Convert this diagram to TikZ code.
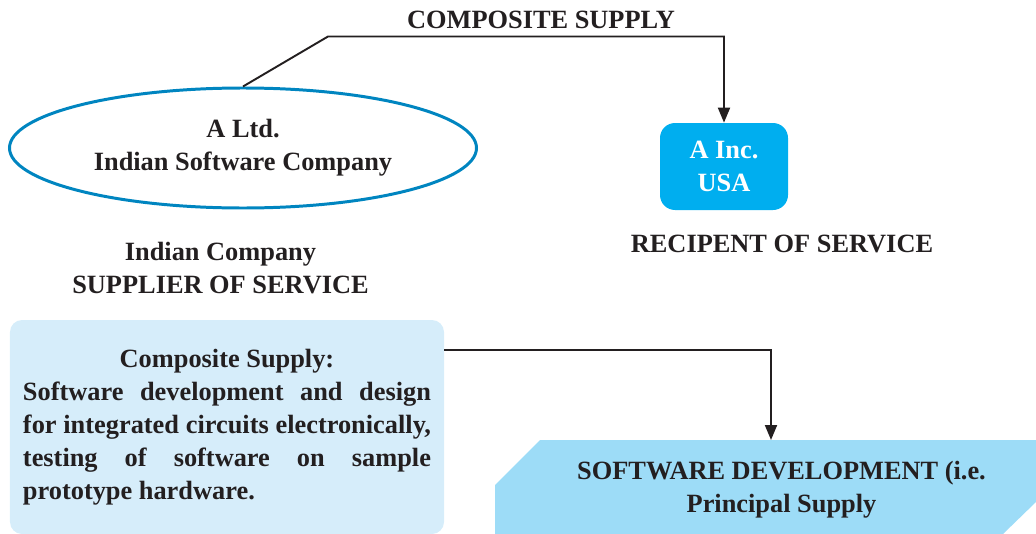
\documentclass[tikz,border=0pt]{standalone}
\usepackage{fontspec}
\setmainfont{Liberation Serif}
\usetikzlibrary{shapes.geometric,arrows.meta}
\definecolor{ellblue}{RGB}{0,133,192}
\definecolor{incblue}{RGB}{0,174,239}
\definecolor{paleblue}{RGB}{214,237,250}
\definecolor{devblue}{RGB}{157,220,247}
\definecolor{inkblack}{RGB}{35,31,32}
\begin{document}
\begin{tikzpicture}[font=\fontsize{15}{18.8}\selectfont\bfseries, text=inkblack,
  lbl/.style={align=center, inner sep=0pt},
  conn/.style={-{Triangle[length=0.3cm,width=0.24cm]}, draw=inkblack, line width=1.1pt}]
\useasboundingbox (0,0) rectangle (20.72,-10.68);
\node[lbl] (title) at (10.82,-0.40) {COMPOSITE SUPPLY};
\node[ellipse, draw=ellblue, line width=1.7pt, minimum width=9.34cm, minimum height=2.4cm, align=center, inner sep=0pt] (ltd) at (4.86,-2.96) {A Ltd.\\Indian Software Company};
\node[rectangle, fill=incblue, rounded corners=0.3cm, minimum width=2.56cm, minimum height=1.74cm, align=center, text=white] (inc) at (14.48,-3.33) {A Inc.\\USA};
\node[lbl] (recip) at (15.64,-4.88) {RECIPENT OF SERVICE};
\node[lbl] (supplier) at (4.41,-5.37) {Indian Company\\SUPPLIER OF SERVICE};
\node[rectangle, fill=paleblue, rounded corners=0.24cm, minimum width=8.68cm, minimum height=4.28cm, text width=8.16cm, align=justify] (comp) at (4.54,-8.54)
  {\hfill Composite Supply:\hfill\null\linebreak Software development and design\linebreak for integrated circuits electronically,\linebreak testing of software on sample\linebreak prototype hardware.};
\fill[devblue] (10.80,-8.80) -- (20.72,-8.80) -- (20.72,-10.04) -- (20.06,-10.68) -- (9.90,-10.68) -- (9.90,-9.70) -- cycle;
\node[lbl] (dev) at (15.63,-9.79) {SOFTWARE DEVELOPMENT (i.e.\\Principal Supply};
\coordinate (devtop) at (15.42,-8.80);
\draw[conn] (ltd.north) -- ++(1.70,1.0) -| (inc.north);
\draw[conn] ([yshift=1.54cm]comp.east) -| (devtop);
\end{tikzpicture}
\end{document}
